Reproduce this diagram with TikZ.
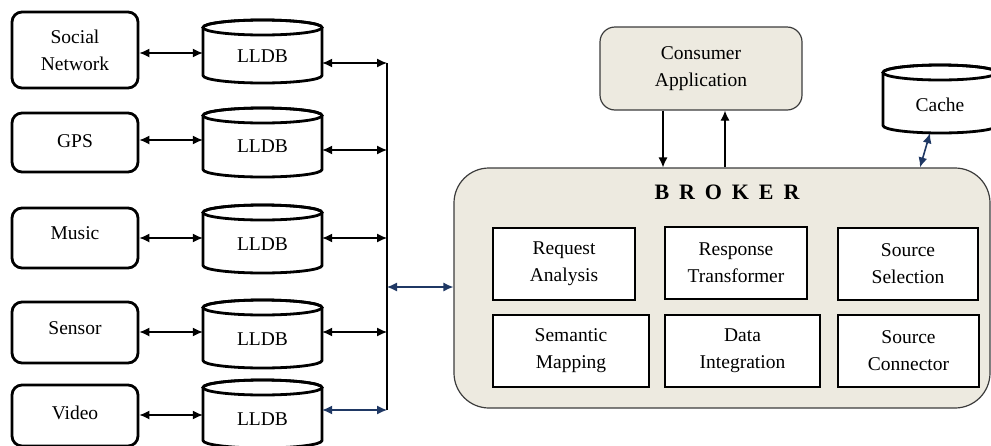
\documentclass[tikz,border=0pt]{standalone}
\usepackage{fontspec}
\setmainfont{Liberation Serif}
\usetikzlibrary{arrows.meta,calc}
\definecolor{beige}{RGB}{237,234,224}
\definecolor{navy}{RGB}{31,56,100}
\definecolor{edgegrey}{RGB}{60,60,60}
\newcommand{\dbcyl}[7]{%
  % #1 name, #2 cx, #3 top, #4 bottom, #5 width, #6 text, #7 text shift
  \path[cylline] (#2-#5/2,-#3-7.5) -- (#2-#5/2,-#4+7.5)
    arc[start angle=180,end angle=360,x radius=#5/2,y radius=7.5]
    -- (#2+#5/2,-#3-7.5)
    arc[start angle=0,end angle=180,x radius=#5/2,y radius=7.5] -- cycle;
  \draw[line width=2.8pt] (#2,-#3-7.5) ellipse[x radius=#5/2,y radius=7.5];
  \node[dbbody,minimum width=#5,minimum height=#4-#3] (#1) at (#2,{-(#3+#4)/2})
    {\raisebox{-#7pt}[\height][\depth]{#6}};
}
\begin{document}
\begin{tikzpicture}[x=1pt,y=1pt,
  txt/.style={font=\fontsize{19.5}{27}\selectfont,align=center},
  srcbox/.style={txt,draw,line width=2.8pt,rounded corners=10pt,fill=white,inner sep=0pt},
  dbbody/.style={txt,inner sep=0pt},
  cylline/.style={draw,line width=2.8pt,fill=white},
  inbox/.style={txt,draw,line width=1.3pt,fill=white,inner sep=0pt},
  biarr/.style={{Latex[length=10pt,width=9pt]}-{Latex[length=10pt,width=9pt]},line width=1.2pt},
  onearr/.style={-{Latex[length=10pt,width=9pt]},line width=1.2pt},
  bigbox/.style={txt,draw=edgegrey,line width=1.2pt,fill=beige,inner sep=0pt}]
\useasboundingbox (0,0) rectangle (991,-445);

% source boxes
\node[srcbox,minimum width=126,minimum height=76] (s1) at (75,-50) {Social\\Network};
\node[srcbox,minimum width=126,minimum height=59] (s2) at (75,-142.5) {\raisebox{2pt}{GPS}};
\node[srcbox,minimum width=126,minimum height=60] (s3) at (75,-238) {\raisebox{5pt}[\height][\depth]{Music}};
\node[srcbox,minimum width=126,minimum height=61] (s4) at (75,-332.5) {\raisebox{4pt}[\height][\depth]{Sensor}};
\node[srcbox,minimum width=126,minimum height=61] (s5) at (75,-415.5) {\raisebox{3pt}[\height][\depth]{Video}};

% LLDB cylinders
\dbcyl{d1}{262.5}{20}{83}{119}{LLDB}{5}
\dbcyl{d2}{262.5}{108}{177}{119}{LLDB}{4}
\dbcyl{d3}{262.5}{205}{273}{119}{LLDB}{5}
\dbcyl{d4}{262.5}{300}{368}{119}{LLDB}{5}
\dbcyl{d5}{262.5}{380}{448}{119}{LLDB}{5}

% source <-> LLDB
\draw[biarr] (s1.east |- 0,-53) -- (d1.west |- 0,-53);
\draw[biarr] (s2.east |- 0,-140) -- (d2.west |- 0,-140);
\draw[biarr] (s3.east |- 0,-238) -- (d3.west |- 0,-238);
\draw[biarr] (s4.east |- 0,-332) -- (d4.west |- 0,-332);
\draw[biarr] (s5.east |- 0,-415) -- (d5.west |- 0,-415);

% bus
\coordinate (bt) at (387,-63);
\coordinate (bb) at (387,-410);
\draw[line width=1.2pt] (bt) -- (bb);
\draw[biarr] (d1.east |- bt) -- (bt);
\draw[biarr] (d2.east |- 0,-150) -- (bt |- 0,-150);
\draw[biarr] (d3.east |- 0,-238) -- (bt |- 0,-238);
\draw[biarr] (d4.east |- 0,-332) -- (bt |- 0,-332);
\draw[biarr,navy] (d5.east |- bb) -- (bb);

% broker
\node[bigbox,rounded corners=35pt,minimum width=536,minimum height=240] (broker) at (722,-288) {};
\node[font=\fontsize{22}{22}\selectfont\bfseries\addfontfeature{LetterSpace=45}] (brt) at (727,-192) {BROKER};
\draw[biarr,navy] (bt |- 0,-287) -- (broker.west |- 0,-287);

% consumer
\node[bigbox,rounded corners=15pt,minimum width=202,minimum height=83] (cons) at (701,-68.5) {Consumer\\Application};
\draw[onearr] (cons.south -| 663,0) -- (broker.north -| 663,0);
\draw[onearr] (broker.north -| 725,0) -- (cons.south -| 725,0);

% cache
\dbcyl{cache}{940}{65}{133}{114}{Cache}{6}
\draw[biarr,navy,line width=1.6pt] (cache.south -| 930,0) -- (broker.north -| 920,0);

% inner boxes
\node[inbox,minimum width=142,minimum height=72] (ra) at (564,-264) {Request\\Analysis};
\node[inbox,minimum width=142,minimum height=72] (rt) at (736,-263) {Response\\Transformer};
\node[inbox,minimum width=140,minimum height=72] (ss) at (908,-264) {Source\\Selection};
\node[inbox,minimum width=156,minimum height=72] (sm) at (571,-351) {Semantic\\Mapping};
\node[inbox,minimum width=155,minimum height=72] (di) at (742.5,-351) {Data\\Integration};
\node[inbox,minimum width=141,minimum height=72] (sc) at (908.5,-351) {Source\\Connector};
\end{tikzpicture}
\end{document}
